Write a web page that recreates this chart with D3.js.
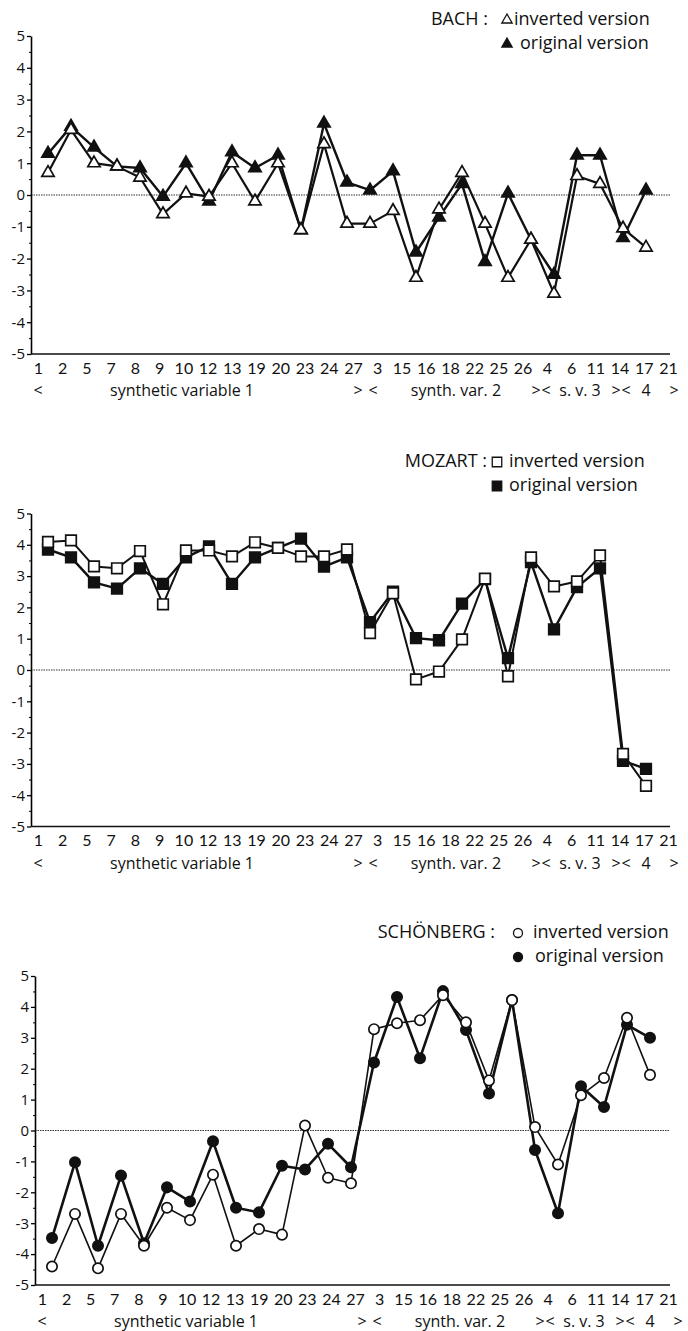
<!DOCTYPE html>
<html>
<head>
<meta charset="utf-8">
<script src="https://cdn.jsdelivr.net/npm/d3@7"></script>
<style>
    body { margin: 0; background: #fff; }
    text { font-family: "Open Sans", Lato, sans-serif; fill: #111; }
</style>
</head>
<body>
<script>
// categories on the x axis (order as printed under the charts)
const categories = ["1", "2", "5", "7", "8", "9", "10", "12", "13", "19", "20", "23", "24", "27",
    "3", "15", "16", "18", "22", "25", "26", "4", "6", "11", "14", "17", "21"]
const yTicks = [5, 4, 3, 2, 1, 0, -1, -2, -3, -4, -5]
const yMinorTicks = [4.5, 3.5, 2.5, 1.5, 0.5, -0.5, -1.5, -2.5, -3.5, -4.5]

const composers = ["BACH", "MOZART", "SCHÖNBERG"]
const legendLabels = ["inverted version", "original version"]
const groupLabels = ["<", "synthetic variable 1", ">", "<", "synth. var. 2", ">", "<", "s. v. 3", ">", "<", "4", ">"]

// values
const bachInverted = [0.7, 2.05, 1.0, 0.9, 0.55, -0.6, 0.05, -0.05, 1.0, -0.2, 1.0, -1.1, 1.6, -0.9,
    -0.9, -0.5, -2.6, -0.45, 0.7, -0.9, -2.6, -1.4, -3.1, 0.6, 0.35, -1.05, -1.65]
const bachOriginal = [1.3, 2.15, 1.5, 0.9, 0.85, -0.05, 1.0, -0.2, 1.35, 0.85, 1.25, -1.1, 2.25, 0.4,
    0.15, 0.75, -1.8, -0.7, 0.35, -2.1, 0.05, -1.4, -2.5, 1.25, 1.25, -1.35, 0.15]

const mozartInverted = [4.09, 4.14, 3.31, 3.25, 3.8, 2.1, 3.82, 3.82, 3.63, 4.08, 3.9, 3.63, 3.63, 3.85,
    1.18, 2.45, -0.3, -0.05, 0.98, 2.92, -0.2, 3.6, 2.67, 2.83, 3.66, -2.68, -3.7]
const mozartOriginal = [3.85, 3.6, 2.8, 2.6, 3.25, 2.75, 3.6, 3.95, 2.75, 3.6, 3.9, 4.2, 3.3, 3.6,
    1.53, 2.5, 1.02, 0.95, 2.12, 2.9, 0.38, 3.45, 1.3, 2.65, 3.25, -2.9, -3.16]

const schoenbergInverted = [-4.4, -2.7, -4.46, -2.7, -3.73, -2.5, -2.9, -1.43, -3.73, -3.19, -3.37, 0.16, -1.53, -1.71,
    3.28, 3.47, 3.57, 4.38, 3.5, 1.62, 4.22, 0.11, -1.1, 1.14, 1.7, 3.65, 1.8]
const schoenbergOriginal = [-3.48, -1.03, -3.73, -1.46, -3.65, -1.84, -2.3, -0.35, -2.5, -2.65, -1.14, -1.26, -0.43, -1.19,
    2.2, 4.32, 2.34, 4.51, 3.25, 1.2, 4.22, -0.63, -2.68, 1.43, 0.76, 3.42, 3.0]


const svg = d3.select('body').append('svg')
    .attr('width', 688)
    .attr('height', 1331)

// layout of the three panels
const panels = [
    { name: composers[0], inv: bachInverted, orig: bachOriginal, symbol: d3.symbolTriangle, size: 66, legendSize: 46,
      top: 36, bottom: 354, axisX: 31, legendY: 19, nameEnd: 488, symX: 507, textX: [514, 520], invWidth: 2.2, origWidth: 2.4 },
    { name: composers[1], inv: mozartInverted, orig: mozartOriginal, symbol: d3.symbolSquare, size: 112, legendSize: 90,
      top: 513.5, bottom: 826.5, axisX: 31, legendY: 461, nameEnd: 487, symX: 497, textX: [509, 509], invWidth: 2, origWidth: 2.4 },
    { name: composers[2], inv: schoenbergInverted, orig: schoenbergOriginal, symbol: d3.symbolCircle, size: 84, legendSize: 64,
      top: 976, bottom: 1285, axisX: 35, legendY: 932, nameEnd: 495, symX: 518, textX: [533, 535], invWidth: 1.6, origWidth: 2.6 }
]

// x positions of the bracket row (relative to the left axis)
const groupLabelX = [7, 151, 327, 342, 425, 505, 515, 549, 585, 595, 615, 643]

panels.forEach(p => {
    const g = svg.append('g')

    const y = d3.scaleLinear().domain([-5, 5]).range([p.bottom, p.top])
    const x = d3.scalePoint().domain(categories).range([p.axisX + 17, p.axisX + 615])
    const xLabels = d3.scalePoint().domain(categories).range([p.axisX + 7, 668])

    // dotted zero line
    g.append('line')
        .attr('x1', p.axisX).attr('x2', 670)
        .attr('y1', y(0)).attr('y2', y(0))
        .attr('stroke', '#333')
        .attr('stroke-width', 1)
        .attr('stroke-dasharray', '1.5,1')

    // y axis
    const yAxis = g.append('g')
        .attr('transform', 'translate(' + p.axisX + ',0)')
        .call(d3.axisLeft(y).tickValues(yTicks).tickSize(4).tickSizeOuter(0).tickPadding(2).tickFormat(d => String(d)))
    yAxis.select('.domain').attr('stroke-width', 1.6)
    yAxis.selectAll('.tick line').attr('stroke-width', 1.3)
    yAxis.selectAll('text').style('font-size', '15px').style('font-family', '"Open Sans"').attr('fill', '#111')

    g.append('g')
        .attr('transform', 'translate(' + p.axisX + ',0)')
        .call(d3.axisLeft(y).tickValues(yMinorTicks).tickSize(2).tickFormat(''))
        .call(a => a.select('.domain').remove())

    // x axis line
    g.append('line')
        .attr('x1', p.axisX).attr('x2', 670)
        .attr('y1', y(-5)).attr('y2', y(-5))
        .attr('stroke', '#111')
        .attr('stroke-width', 1.6)

    // category labels
    const xAxis = g.append('g')
        .attr('transform', 'translate(0,' + (y(-5) + 8.5) + ')')
        .call(d3.axisBottom(xLabels).tickSize(0).tickPadding(0))
    xAxis.select('.domain').remove()
    xAxis.selectAll('text').style('font-size', '16px').style('font-family', 'Lato').attr('fill', '#111')

    // bracket row under the labels
    g.selectAll('.group')
        .data(groupLabels)
        .enter()
        .append('text')
        .attr('x', (d, i) => p.axisX + groupLabelX[i])
        .attr('y', y(-5) + 42)
        .attr('text-anchor', 'middle')
        .style('font-size', '16px')
        .text(d => d)

    // series: original first, inverted drawn on top
    const line = d3.line()
        .x((d, i) => x(categories[i]))
        .y(d => y(d))

    const series = [
        { values: p.orig, fill: '#111', width: p.origWidth },
        { values: p.inv, fill: '#fff', width: p.invWidth }
    ]

    series.forEach(s => {
        g.append('path')
            .datum(s.values)
            .attr('d', line)
            .attr('fill', 'none')
            .attr('stroke', '#111')
            .attr('stroke-width', s.width)
            .attr('stroke-linejoin', 'round')

        g.selectAll(null)
            .data(s.values)
            .enter()
            .append('path')
            .attr('d', d3.symbol().type(p.symbol).size(p.size))
            .attr('transform', (d, i) => 'translate(' + x(categories[i]) + ',' + y(d) + ')')
            .attr('fill', s.fill)
            .attr('stroke', '#111')
            .attr('stroke-width', 1.7)
    })

    // legend
    g.append('text')
        .attr('x', p.nameEnd)
        .attr('y', p.legendY + 6)
        .attr('text-anchor', 'end')
        .style('font-size', '18px')
        .text(p.name + ' :')

    legendLabels.forEach((label, i) => {
        const ly = p.legendY + i * 24
        g.append('path')
            .attr('d', d3.symbol().type(p.symbol).size(p.legendSize))
            .attr('transform', 'translate(' + p.symX + ',' + (ly + 1) + ')')
            .attr('fill', i === 0 ? '#fff' : '#111')
            .attr('stroke', '#111')
            .attr('stroke-width', 1.3)
        g.append('text')
            .attr('x', p.textX[i])
            .attr('y', ly + 6)
            .style('font-size', '18px')
            .text(label)
    })
})
</script>
</body>
</html>
